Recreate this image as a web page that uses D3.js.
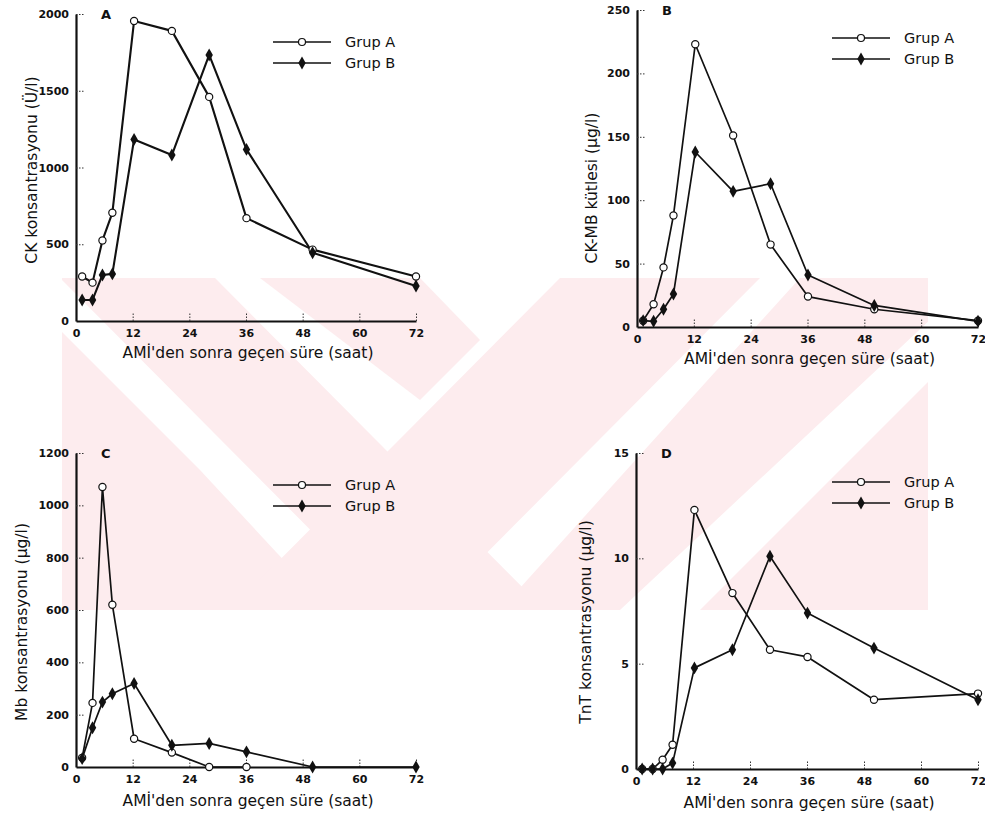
<!DOCTYPE html>
<html>
<head>
<meta charset="utf-8">
<script src="https://cdn.jsdelivr.net/npm/d3@7"></script>
<style>
  body { margin: 0; background: #fff; }
  svg { display: block; }
  .tick text { font-family: "DejaVu Sans", sans-serif; font-weight: bold; font-size: 11px; fill: #111; }
  .lbl { font-family: "DejaVu Sans", sans-serif; font-size: 15.5px; fill: #111; }
  .leg { font-family: "DejaVu Sans", sans-serif; font-size: 14.5px; fill: #111; }
</style>
</head>
<body>
<svg id="chart" width="985" height="822"></svg>
<script>
// sampling times (hours after AMI)
const hours = [1.3, 3.5, 5.6, 7.7, 12.3, 20.3, 28.2, 36.1, 50.1, 72];
const xTicks = [0, 12, 24, 36, 48, 60, 72];

// A: CK (U/l)
const ckA = [290, 250, 525, 705, 1955, 1890, 1460, 670, 465, 290];
const ckB = [137, 137, 300, 307, 1183, 1081, 1733, 1118, 445, 228];
const ckTicks = [0, 500, 1000, 1500, 2000];

// B: CK-MB mass (ug/l)
const ckmbA = [5, 18, 47, 88, 223, 151, 65, 24, 14, 5];
const ckmbB = [5, 4.5, 14, 26, 138, 107, 113, 41, 17, 4.5];
const ckmbTicks = [0, 50, 100, 150, 200, 250];

// C: myoglobin (ug/l)
const mbA = [35, 245, 1070, 620, 108, 55, 0, 0, null, null];
const mbB = [32, 150, 248, 280, 319, 83, 90, 58, 0, 0];
const mbTicks = [0, 200, 400, 600, 800, 1000, 1200];

// D: troponin T (ug/l)
const tntA = [0, 0, 0.44, 1.15, 12.3, 8.35, 5.66, 5.32, 3.29, 3.58];
const tntB = [0, 0, 0, 0.28, 4.8, 5.66, 10.1, 7.4, 5.74, 3.29];
const tntTicks = [0, 5, 10, 15];

const groups = ["Grup A", "Grup B"];
const xTitle = "AMİ'den sonra geçen süre (saat)";

const svg = d3.select("#chart");

// faint pink watermark behind the charts
svg.append("defs").append("clipPath").attr("id", "wmclip")
  .append("rect").attr("x", 62).attr("y", 278).attr("width", 866).attr("height", 332);
const wm = svg.append("g").attr("fill", "#fdecee").attr("clip-path", "url(#wmclip)");
const wmShapes = [
  [[60, 278], [215, 278], [545, 610], [390, 610]],
  [[260, 278], [420, 278], [480, 340], [420, 400]],
  [[60, 330], [60, 610], [330, 610], [200, 470]],
  [[560, 278], [760, 278], [430, 610], [230, 610]],
  [[800, 278], [930, 278], [930, 320], [620, 610], [500, 610]],
  [[930, 380], [930, 610], [700, 610]]
];
wm.selectAll("polygon").data(wmShapes).join("polygon")
  .attr("points", d => d.map(p => p.join(",")).join(" "));

const panels = [
  { letter: "A", a: ckA, b: ckB, ticks: ckTicks, yTitle: "CK konsantrasyonu (Ü/l)",
    x0: 76, x1: 416, y0: 321, y1: 14, lw: 2.1, legX: 273, legY: 42, yTx: 32, yTc: 170, xTy: 358 },
  { letter: "B", a: ckmbA, b: ckmbB, ticks: ckmbTicks, yTitle: "CK-MB kütlesi (µg/l)",
    x0: 637, x1: 978, y0: 327, y1: 10, lw: 1.7, legX: 832, legY: 38, yTx: 592, yTc: 188, xTy: 364 },
  { letter: "C", a: mbA, b: mbB, ticks: mbTicks, yTitle: "Mb konsantrasyonu  (µg/l)",
    x0: 76, x1: 416, y0: 767, y1: 453, lw: 1.7, legX: 273, legY: 485, yTx: 22, yTc: 622, xTy: 806 },
  { letter: "D", a: tntA, b: tntB, ticks: tntTicks, yTitle: "TnT konsantrasyonu  (µg/l)",
    x0: 636, x1: 978, y0: 769, y1: 453, lw: 1.7, legX: 832, legY: 482, yTx: 586, yTc: 622, xTy: 808 }
];

const diamond = d3.symbol().type(d3.symbolDiamond).size(48);

panels.forEach(p => {
  const g = svg.append("g");
  const x = d3.scaleLinear().domain([0, 72]).range([p.x0, p.x1]);
  const y = d3.scaleLinear().domain([0, d3.max(p.ticks)]).range([p.y0, p.y1]);

  const yAxis = g.append("g").attr("transform", `translate(${p.x0},0)`)
    .call(d3.axisLeft(y).tickValues(p.ticks).tickFormat(d3.format("d"))
      .tickSize(-9).tickSizeOuter(0).tickPadding(7));
  const xAxis = g.append("g").attr("transform", `translate(0,${p.y0})`)
    .call(d3.axisBottom(x).tickValues(xTicks).tickFormat(d3.format("d"))
      .tickSize(-9).tickSizeOuter(0).tickPadding(8));
  [yAxis, xAxis].forEach(ax => {
    ax.select(".domain").attr("stroke", "#111").attr("stroke-width", 2.2);
    ax.selectAll(".tick line").attr("stroke", "#333").attr("stroke-dasharray", "1.5,1.5");
  });
  xAxis.selectAll(".tick").filter(d => d === 0).select("line").remove();
  yAxis.selectAll(".tick").filter(d => d === 0).select("line").remove();

  g.append("text").attr("x", p.x0 + 25).attr("y", p.y1 + 5)
    .attr("font-family", "DejaVu Sans, sans-serif").attr("font-weight", "bold")
    .attr("font-size", 13).attr("fill", "#111").text(p.letter);

  g.append("text").attr("class", "lbl")
    .attr("x", (p.x0 + p.x1) / 2 + 2).attr("y", p.xTy).attr("text-anchor", "middle")
    .text(xTitle);
  g.append("text").attr("class", "lbl")
    .attr("transform", `translate(${p.yTx},${p.yTc}) rotate(-90)`)
    .attr("text-anchor", "middle").attr("dy", "0.35em").text(p.yTitle);

  const series = [p.a, p.b].map((vals, i) =>
    hours.map((h, j) => ({ h, v: vals[j], grp: i })).filter(d => d.v !== null));

  const line = d3.line().x(d => x(d.h)).y(d => y(d.v));
  g.selectAll("path.series").data(series).join("path")
    .attr("class", "series").attr("d", line)
    .attr("fill", "none").attr("stroke", "#111").attr("stroke-width", p.lw)
    .attr("stroke-linejoin", "round");

  // Grup A: open circles
  g.selectAll("circle.pa").data(series[0]).join("circle")
    .attr("class", "pa").attr("cx", d => x(d.h)).attr("cy", d => y(d.v))
    .attr("r", 3.6).attr("fill", "#fff").attr("stroke", "#111").attr("stroke-width", 1.2);
  // Grup B: filled diamonds
  g.selectAll("path.pb").data(series[1]).join("path")
    .attr("class", "pb").attr("d", diamond)
    .attr("transform", d => `translate(${x(d.h)},${y(d.v)})`).attr("fill", "#111");

  // legend
  const leg = g.append("g").attr("transform", `translate(${p.legX},${p.legY})`);
  groups.forEach((name, i) => {
    const row = leg.append("g").attr("transform", `translate(0,${i * 21})`);
    row.append("line").attr("x1", 0).attr("x2", 58).attr("stroke", "#111").attr("stroke-width", 1.6);
    if (i === 0) {
      row.append("circle").attr("cx", 29).attr("r", 3.5).attr("fill", "#fff")
        .attr("stroke", "#111").attr("stroke-width", 1.2);
    } else {
      row.append("path").attr("d", diamond).attr("transform", "translate(29,0)").attr("fill", "#111");
    }
    row.append("text").attr("class", "leg").attr("x", 72).attr("dy", "0.35em").text(name);
  });
});
</script>
</body>
</html>
